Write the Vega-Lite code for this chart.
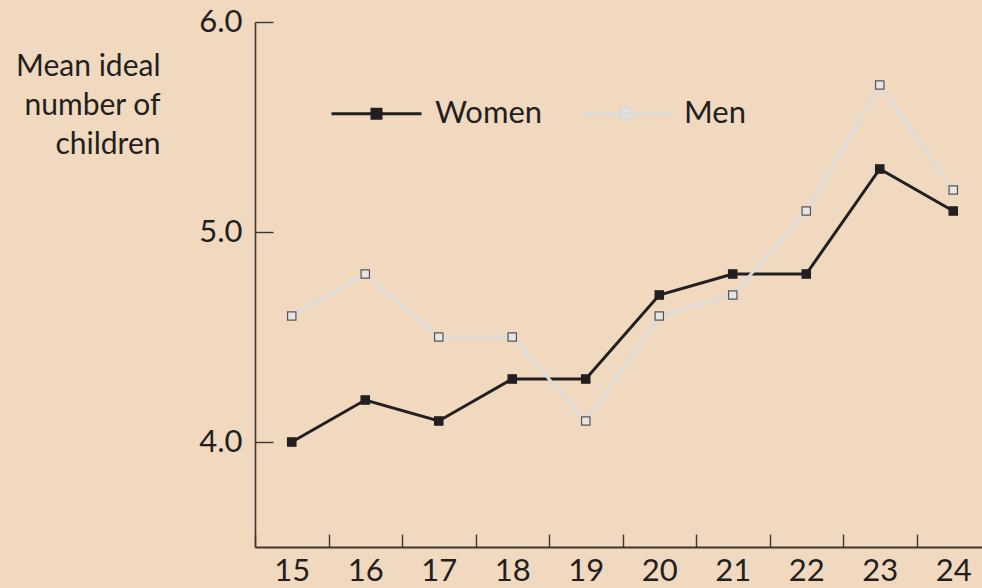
{
  "$schema": "https://vega.github.io/schema/vega-lite/v6.json",
  "width": 727,
  "height": 525,
  "autosize": "none",
  "padding": {"left": 255, "top": 22, "right": 0, "bottom": 41},
  "background": "#f0d9bf",
  "config": {
    "view": {"stroke": null},
    "font": "Lato",
    "axis": {"labelFont": "Lato", "titleFont": "Lato", "labelColor": "#231f20", "titleColor": "#231f20", "labelFontSize": 31, "titleFontSize": 30, "titleFontWeight": "normal", "grid": false, "domainColor": "#3d3631", "tickColor": "#3d3631"},
    "legend": {"labelFont": "Lato", "labelFontSize": 31, "labelColor": "#231f20"}
  },
  "data": {"values": [
    {"age": "15", "sex": "Women", "value": 4.0},
    {"age": "16", "sex": "Women", "value": 4.2},
    {"age": "17", "sex": "Women", "value": 4.1},
    {"age": "18", "sex": "Women", "value": 4.3},
    {"age": "19", "sex": "Women", "value": 4.3},
    {"age": "20", "sex": "Women", "value": 4.7},
    {"age": "21", "sex": "Women", "value": 4.8},
    {"age": "22", "sex": "Women", "value": 4.8},
    {"age": "23", "sex": "Women", "value": 5.3},
    {"age": "24", "sex": "Women", "value": 5.1},
    {"age": "15", "sex": "Men", "value": 4.6},
    {"age": "16", "sex": "Men", "value": 4.8},
    {"age": "17", "sex": "Men", "value": 4.5},
    {"age": "18", "sex": "Men", "value": 4.5},
    {"age": "19", "sex": "Men", "value": 4.1},
    {"age": "20", "sex": "Men", "value": 4.6},
    {"age": "21", "sex": "Men", "value": 4.7},
    {"age": "22", "sex": "Men", "value": 5.1},
    {"age": "23", "sex": "Men", "value": 5.7},
    {"age": "24", "sex": "Men", "value": 5.2}
  ]},
  "encoding": {
    "x": {"field": "age", "type": "ordinal", "sort": null,
      "scale": {"type": "band", "range": [0, 735], "paddingInner": 0, "paddingOuter": 0},
      "axis": {"title": null, "labelAngle": 0, "tickBand": "extent", "tickSize": -13, "tickWidth": 1.4, "domainWidth": 2, "labelPadding": 22}},
    "y": {"field": "value", "type": "quantitative",
      "scale": {"domain": [3.5, 6.0], "nice": false, "zero": false},
      "axis": {"values": [4, 5, 6], "format": ".1f", "tickSize": -18, "tickWidth": 1.4, "domainWidth": 1.6, "labelPadding": 31,
        "title": ["Mean ideal", "number of", "children"], "titleAngle": 0, "titleAlign": "right", "titleBaseline": "alphabetic",
        "titleX": -95, "titleY": 53, "titleLineHeight": 39}}
  },
  "layer": [
    {
      "mark": {"type": "line", "strokeWidth": 3},
      "encoding": {
        "color": {"field": "sex", "type": "nominal",
          "scale": {"domain": ["Women", "Men"], "range": ["#231f20", "#dcdcdc"]},
          "legend": {"title": null, "orient": "none", "direction": "horizontal", "legendX": 75, "legendY": 45,
            "symbolType": "M-1,0H1M-0.1,-0.1H0.1V0.1H-0.1Z", "symbolSize": 8100, "symbolStrokeWidth": 3,
            "labelOffset": 12, "columnPadding": 31, "padding": 0,
            "encode": {"symbols": {"update": {"fill": {"signal": "datum.value === 'Men' ? '#e6e6e6' : '#231f20'"}, "fillOpacity": {"value": 1}}}}}
        }
      }
    },
    {
      "mark": {"type": "square", "size": 70, "opacity": 1, "strokeWidth": 1.2},
      "encoding": {
        "fill": {"field": "sex", "type": "nominal", "scale": {"domain": ["Women", "Men"], "range": ["#231f20", "#e6e6e6"]}, "legend": null},
        "stroke": {"field": "sex", "type": "nominal", "scale": {"domain": ["Women", "Men"], "range": ["#231f20", "#555555"]}, "legend": null}
      }
    }
  ]
}
